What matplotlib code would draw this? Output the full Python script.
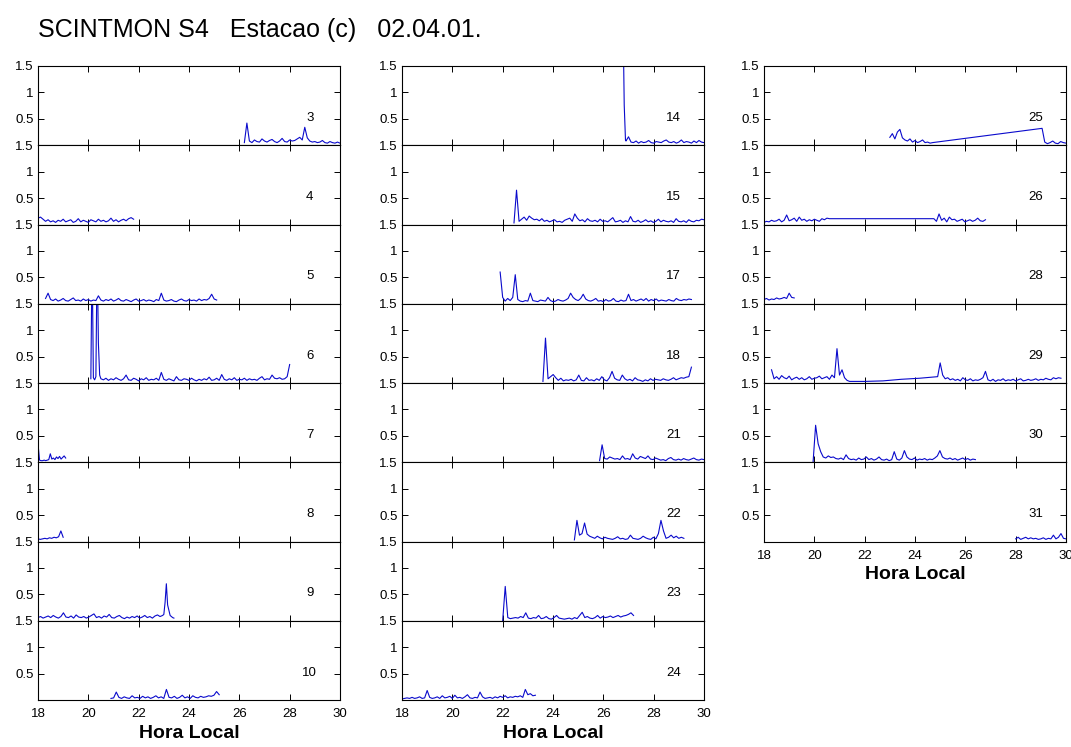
import numpy as np
import matplotlib
matplotlib.use("Agg")
import matplotlib.pyplot as plt

plt.rcParams['font.family'] = ['Liberation Sans', 'DejaVu Sans']

# S4 por satelite: cada trecho e (hora inicial, hora final, valores)
s4_03 = [(26.2, 30.0, [0.05, 0.42, 0.08, 0.05, 0.1, 0.07, 0.06, 0.12, 0.08, 0.06, 0.09, 0.11, 0.07,
                       0.05, 0.08, 0.13, 0.07, 0.06, 0.1, 0.08, 0.09, 0.12, 0.15, 0.1, 0.34, 0.14,
                       0.08, 0.06, 0.07, 0.05, 0.06, 0.09, 0.05, 0.04, 0.07, 0.05, 0.04, 0.06, 0.04])]
s4_04 = [(18.0, 21.8, [0.12, 0.14, 0.1, 0.06, 0.09, 0.05, 0.07, 0.04, 0.08, 0.06, 0.1, 0.05, 0.07,
                       0.09, 0.04, 0.06, 0.11, 0.05, 0.08, 0.06, 0.04, 0.09, 0.07, 0.05, 0.1, 0.06,
                       0.08, 0.05, 0.07, 0.12, 0.06, 0.09, 0.05, 0.08, 0.1, 0.07, 0.11, 0.13, 0.1])]
s4_05 = [(18.3, 25.1, [0.1, 0.2, 0.08, 0.06, 0.09, 0.05, 0.07, 0.1, 0.06, 0.05, 0.08, 0.11, 0.06,
                       0.07, 0.05, 0.09, 0.06, 0.08, 0.05, 0.07, 0.06, 0.15, 0.07, 0.05, 0.08, 0.06,
                       0.09, 0.05, 0.07, 0.1, 0.06, 0.05, 0.08, 0.06, 0.04, 0.07, 0.09, 0.05, 0.06,
                       0.08, 0.05, 0.07, 0.06, 0.04, 0.08, 0.06, 0.2, 0.07, 0.05, 0.06, 0.08, 0.05,
                       0.04, 0.07, 0.09, 0.06, 0.05, 0.08, 0.06, 0.07, 0.05, 0.09, 0.06, 0.08, 0.07,
                       0.1, 0.18, 0.09, 0.07])]
s4_06 = [(20.1, 20.5, [0.08, 2.5, 0.1, 0.06, 0.12, 2.5, 0.75, 0.15, 0.08]),
         (20.6, 28.0, [0.06, 0.09, 0.05, 0.08, 0.06, 0.1, 0.07, 0.05, 0.08, 0.15, 0.06, 0.05, 0.09,
                       0.07, 0.04, 0.08, 0.06, 0.1, 0.05, 0.07, 0.06, 0.09, 0.05, 0.2, 0.07, 0.05,
                       0.08, 0.06, 0.04, 0.12, 0.06, 0.05, 0.08, 0.07, 0.05, 0.09, 0.06, 0.04, 0.07,
                       0.05, 0.08, 0.06, 0.11, 0.05, 0.06, 0.09, 0.05, 0.16, 0.07, 0.05, 0.08, 0.06,
                       0.1, 0.05, 0.07, 0.06, 0.09, 0.05, 0.08, 0.06, 0.07, 0.05, 0.09, 0.12, 0.06,
                       0.08, 0.07, 0.15, 0.09, 0.08, 0.1, 0.07, 0.08, 0.12, 0.35])]
s4_07 = [(18.0, 19.1, [0.35, 0.04, 0.03, 0.03, 0.04, 0.03, 0.04, 0.05, 0.16, 0.06, 0.08, 0.05, 0.1,
                       0.07, 0.11, 0.06, 0.09, 0.12, 0.08])]
s4_08 = [(18.0, 19.0, [0.05, 0.04, 0.05, 0.06, 0.05, 0.07, 0.06, 0.08, 0.07, 0.09, 0.2, 0.08])]
s4_09 = [(18.0, 22.95, [0.06, 0.08, 0.05, 0.07, 0.09, 0.06, 0.1, 0.07, 0.05, 0.08, 0.15, 0.07, 0.06,
                        0.09, 0.05, 0.11, 0.07, 0.06, 0.08, 0.05, 0.07, 0.1, 0.13, 0.06, 0.08, 0.05,
                        0.09, 0.07, 0.12, 0.06, 0.05, 0.08, 0.1, 0.06, 0.04, 0.07, 0.05, 0.08, 0.06,
                        0.09, 0.05, 0.07, 0.1, 0.06, 0.08, 0.05, 0.09, 0.11, 0.08, 0.1]),
         (23.0, 23.4, [0.12, 0.35, 0.7, 0.3, 0.2, 0.1, 0.08, 0.06, 0.05])]
s4_10 = [(20.9, 25.2, [0.03, 0.04, 0.15, 0.05, 0.03, 0.06, 0.04, 0.03, 0.08, 0.04, 0.05, 0.03, 0.07,
                       0.04, 0.06, 0.03, 0.05, 0.08, 0.04, 0.06, 0.03, 0.2, 0.05, 0.04, 0.07, 0.03,
                       0.05, 0.09, 0.04, 0.06, 0.03, 0.08, 0.05, 0.04, 0.07, 0.05, 0.06, 0.08, 0.07,
                       0.09, 0.16, 0.1])]

s4_14 = [(26.78, 26.88, [2.5, 0.76, 0.1]),
         (26.9, 30.0, [0.08, 0.16, 0.06, 0.05, 0.08, 0.04, 0.07, 0.05, 0.06, 0.09, 0.05, 0.04, 0.07,
                       0.06, 0.05, 0.08, 0.1, 0.06, 0.05, 0.07, 0.04, 0.06, 0.1, 0.05, 0.07, 0.06,
                       0.04, 0.08, 0.05, 0.09, 0.06, 0.05])]
s4_15 = [(22.45, 30.0, [0.03, 0.65, 0.06, 0.1, 0.14, 0.08, 0.16, 0.12, 0.09, 0.1, 0.07, 0.11, 0.06,
                        0.08, 0.05, 0.07, 0.09, 0.05, 0.06, 0.04, 0.08, 0.1, 0.12, 0.06, 0.2, 0.12,
                        0.07, 0.09, 0.05, 0.11, 0.07, 0.06, 0.08, 0.05, 0.1, 0.06, 0.07, 0.05, 0.09,
                        0.13, 0.05, 0.06, 0.08, 0.04, 0.07, 0.05, 0.15, 0.06, 0.05, 0.08, 0.04, 0.06,
                        0.09, 0.05, 0.07, 0.04, 0.06, 0.1, 0.05, 0.08, 0.06, 0.05, 0.07, 0.04, 0.11,
                        0.06, 0.05, 0.07, 0.04, 0.09, 0.06, 0.05, 0.08, 0.07, 0.1, 0.09])]
s4_17 = [(21.9, 29.5, [0.6, 0.12, 0.05, 0.1, 0.06, 0.12, 0.55, 0.08, 0.05, 0.04, 0.06, 0.05, 0.2,
                       0.06, 0.05, 0.04, 0.07, 0.06, 0.05, 0.12, 0.06, 0.04, 0.05, 0.08, 0.06, 0.05,
                       0.07, 0.1, 0.2, 0.12, 0.08, 0.06, 0.1, 0.18, 0.09, 0.06, 0.05, 0.07, 0.1, 0.05,
                       0.06, 0.04, 0.08, 0.05, 0.06, 0.1, 0.05, 0.04, 0.07, 0.05, 0.06, 0.18, 0.06,
                       0.08, 0.05, 0.07, 0.09, 0.06, 0.1, 0.05, 0.08, 0.06, 0.09, 0.05, 0.07, 0.06,
                       0.05, 0.08, 0.06, 0.05, 0.1, 0.07, 0.06, 0.08, 0.07, 0.09, 0.08])]
s4_18 = [(23.6, 29.5, [0.03, 0.85, 0.08, 0.12, 0.16, 0.1, 0.05, 0.09, 0.04, 0.06, 0.05, 0.07, 0.04,
                       0.06, 0.15, 0.05, 0.04, 0.1, 0.05, 0.06, 0.04, 0.08, 0.05, 0.12, 0.06, 0.04,
                       0.1, 0.22, 0.09, 0.06, 0.05, 0.15, 0.08, 0.05, 0.07, 0.04, 0.1, 0.06, 0.05,
                       0.03, 0.06, 0.04, 0.08, 0.05, 0.07, 0.06, 0.05, 0.08, 0.06, 0.05, 0.07, 0.1,
                       0.06, 0.08, 0.1, 0.09, 0.11, 0.12, 0.3])]
s4_21 = [(25.85, 30.0, [0.03, 0.33, 0.07, 0.06, 0.1, 0.08, 0.06, 0.07, 0.05, 0.12, 0.06, 0.07, 0.05,
                        0.16, 0.08, 0.06, 0.11, 0.09, 0.07, 0.12, 0.06, 0.05, 0.08, 0.06, 0.04, 0.05,
                        0.03, 0.07, 0.09, 0.05, 0.04, 0.06, 0.04, 0.07, 0.05, 0.04, 0.06, 0.08, 0.05,
                        0.04, 0.06, 0.05])]
s4_22 = [(24.85, 29.2, [0.03, 0.4, 0.12, 0.15, 0.35, 0.14, 0.1, 0.08, 0.06, 0.1, 0.07, 0.05, 0.08,
                        0.06, 0.05, 0.04, 0.06, 0.09, 0.05, 0.06, 0.04, 0.05, 0.12, 0.06, 0.05, 0.04,
                        0.06, 0.1, 0.07, 0.05, 0.04, 0.08, 0.05, 0.15, 0.4, 0.2, 0.06, 0.08, 0.12,
                        0.07, 0.1, 0.06, 0.08, 0.06])]
s4_23 = [(22.0, 27.2, [0.0, 0.65, 0.06, 0.04, 0.05, 0.06, 0.05, 0.08, 0.06, 0.15, 0.05, 0.04, 0.06,
                       0.05, 0.1, 0.04, 0.05, 0.08, 0.04, 0.03, 0.06, 0.1, 0.05, 0.04, 0.03, 0.04,
                       0.05, 0.03, 0.06, 0.04, 0.1, 0.16, 0.06, 0.08, 0.05, 0.04, 0.06, 0.1, 0.05,
                       0.08, 0.06, 0.07, 0.09, 0.06, 0.08, 0.1, 0.07, 0.09, 0.1, 0.12, 0.15, 0.1])]
s4_24 = [(18.0, 23.3, [0.02, 0.03, 0.04, 0.03, 0.05, 0.03, 0.04, 0.06, 0.03, 0.04, 0.18, 0.05, 0.03,
                       0.04, 0.06, 0.03, 0.08, 0.04, 0.05, 0.07, 0.03, 0.09, 0.04, 0.05, 0.03, 0.06,
                       0.1, 0.04, 0.03, 0.05, 0.04, 0.15, 0.06, 0.03, 0.04, 0.05, 0.03, 0.06, 0.04,
                       0.07, 0.05, 0.08, 0.04, 0.06, 0.05, 0.07, 0.06, 0.08, 0.05, 0.2, 0.1, 0.12,
                       0.08, 0.09])]

s4_25 = [(23.0, 24.7, [0.15, 0.22, 0.12, 0.25, 0.3, 0.14, 0.1, 0.08, 0.12, 0.06, 0.09, 0.05, 0.07,
                       0.1, 0.05, 0.06, 0.04, 0.05]),
         (29.05, 30.0, [0.32, 0.06, 0.03, 0.05, 0.08, 0.04, 0.03, 0.07, 0.05, 0.04])]
s4_26 = [(18.0, 20.6, [0.04, 0.06, 0.05, 0.08, 0.06, 0.07, 0.1, 0.05, 0.08, 0.18, 0.07, 0.09, 0.12,
                       0.06, 0.14, 0.08, 0.1, 0.06, 0.09, 0.07, 0.1, 0.08, 0.06, 0.11, 0.09, 0.12,
                       0.11]),
         (24.75, 26.8, [0.11, 0.06, 0.2, 0.08, 0.12, 0.05, 0.14, 0.09, 0.1, 0.06, 0.08, 0.1, 0.05,
                        0.07, 0.09, 0.06, 0.08, 0.12, 0.07, 0.06, 0.09])]
s4_28 = [(18.0, 19.2, [0.08, 0.1, 0.07, 0.09, 0.08, 0.11, 0.09, 0.1, 0.12, 0.1, 0.2, 0.12, 0.11])]
s4_29 = [(18.3, 21.4, [0.25, 0.08, 0.12, 0.07, 0.14, 0.1, 0.08, 0.13, 0.06, 0.09, 0.11, 0.07, 0.1,
                       0.06, 0.08, 0.12, 0.07, 0.09, 0.1, 0.13, 0.08, 0.1, 0.12, 0.07, 0.15, 0.1,
                       0.65, 0.15, 0.25, 0.1, 0.05, 0.03]),
         (22.0, 24.9, [0.03, 0.04, 0.07, 0.09, 0.12]),
         (25.0, 29.8, [0.38, 0.15, 0.08, 0.1, 0.06, 0.08, 0.05, 0.07, 0.04, 0.1, 0.06, 0.05, 0.08,
                       0.04, 0.06, 0.05, 0.07, 0.1, 0.22, 0.06, 0.04, 0.07, 0.03, 0.06, 0.05, 0.08,
                       0.04, 0.06, 0.05, 0.07, 0.04, 0.06, 0.08, 0.04, 0.05, 0.07, 0.05, 0.06, 0.08,
                       0.05, 0.07, 0.06, 0.09, 0.07, 0.06, 0.1, 0.08, 0.1, 0.09])]
s4_30 = [(19.95, 26.4, [0.0, 0.7, 0.35, 0.2, 0.1, 0.08, 0.12, 0.09, 0.1, 0.07, 0.06, 0.08, 0.05,
                        0.14, 0.07, 0.05, 0.06, 0.04, 0.08, 0.05, 0.06, 0.1, 0.05, 0.07, 0.04, 0.06,
                        0.1, 0.05, 0.04, 0.06, 0.03, 0.05, 0.2, 0.06, 0.04, 0.08, 0.22, 0.1, 0.06,
                        0.05, 0.08, 0.04, 0.06, 0.05, 0.07, 0.04, 0.06, 0.05, 0.08, 0.12, 0.22, 0.1,
                        0.07, 0.06, 0.08, 0.05, 0.07, 0.04, 0.06, 0.08, 0.05, 0.07, 0.04, 0.06, 0.05])]
s4_31 = [(28.0, 30.0, [0.05, 0.08, 0.04, 0.06, 0.08, 0.05, 0.07, 0.05, 0.06, 0.04, 0.05, 0.07, 0.04,
                       0.06, 0.05, 0.12, 0.05, 0.08, 0.15, 0.06, 0.05])]

colunas = [
    [(3, s4_03), (4, s4_04), (5, s4_05), (6, s4_06), (7, s4_07), (8, s4_08), (9, s4_09), (10, s4_10)],
    [(14, s4_14), (15, s4_15), (17, s4_17), (18, s4_18), (21, s4_21), (22, s4_22), (23, s4_23), (24, s4_24)],
    [(25, s4_25), (26, s4_26), (28, s4_28), (29, s4_29), (30, s4_30), (31, s4_31)],
]


def serie(trechos):
    t, v = [], []
    for t0, t1, vals in trechos:
        t.extend(np.linspace(t0, t1, len(vals)))
        v.extend(vals)
    return np.array(t), np.array(v)


fig = plt.figure(figsize=(10.71, 7.47), dpi=100)
W, H = 1071.0, 747.0
lefts = [38, 402, 764]
largura = 302
topo = 66
altura = 79.25

for c, painel in enumerate(colunas):
    for i, (prn, trechos) in enumerate(painel):
        base = topo + (i + 1) * altura
        ax = fig.add_axes([lefts[c] / W, 1 - base / H, largura / W, altura / H])
        t, v = serie(trechos)
        ax.plot(t, v, color='#0a0acc', lw=0.8)
        ax.set_xlim(18, 30)
        ax.set_ylim(0, 1.5)
        ax.set_yticks([0.5, 1, 1.5])
        ax.set_yticklabels(['0.5', '1', '1.5'])
        ax.set_xticks(range(18, 31, 2))
        ax.tick_params(direction='in', top=True, right=True, length=4, width=0.7,
                       labelsize=9.5, colors='black')
        ax.tick_params(axis='y', pad=3)
        ax.tick_params(axis='x', pad=6)
        for s in ax.spines.values():
            s.set_linewidth(0.8)
        ax.text(28.8, 0.52, str(prn), ha='center', va='center', fontsize=9.5)
        if i == len(painel) - 1:
            ax.set_xlabel('Hora Local', fontsize=14, fontweight='bold', labelpad=3)
        else:
            ax.tick_params(labelbottom=False)

fig.text(38 / W, 1 - 37 / H, 'SCINTMON S4   Estacao (c)   02.04.01.', fontsize=18,
         ha='left', va='baseline')

fig.savefig('out.png', dpi=100)
